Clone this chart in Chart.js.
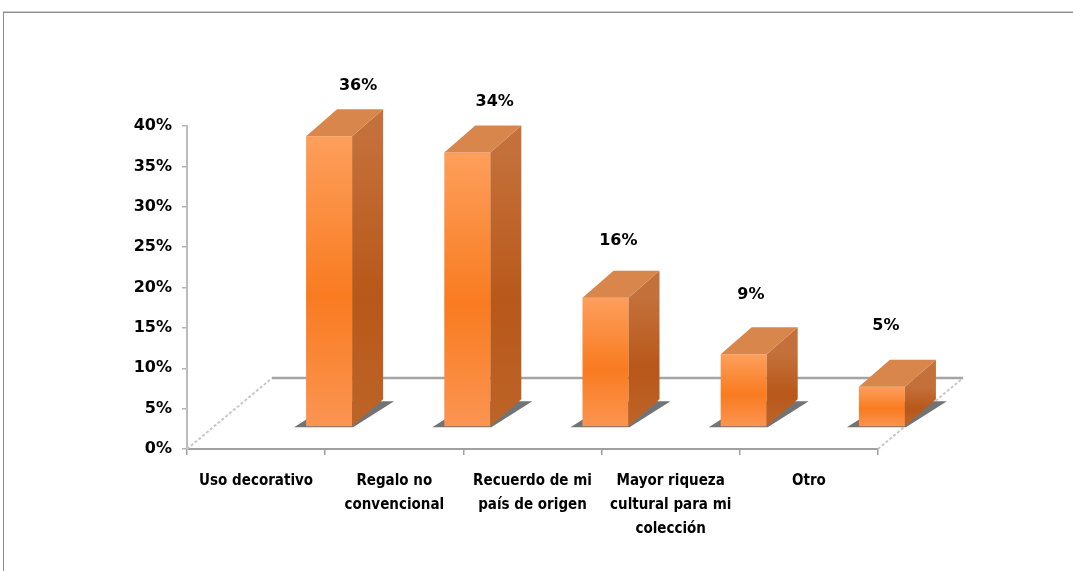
<!DOCTYPE html>
<html lang="es">
<head>
    <meta charset="UTF-8">
    <title>Motivos de compra</title>
    <script src="https://cdn.jsdelivr.net/npm/chart.js"></script>
    <style>
        body { margin: 0; background: #fff; }
        #wrap { position: relative; width: 1073px; height: 571px; overflow: hidden; }
        #frame { position: absolute; left: 3px; top: 12px; width: 1200px; height: 700px;
                 border-top: 1px solid #8c8c8c; border-left: 1px solid #8c8c8c;
                 box-shadow: 0 -1px 0 #cfcfcf; }
        canvas { position: absolute; left: 0; top: 0; }
    </style>
</head>
<body>
<div id="wrap">
    <div id="frame"></div>
    <canvas id="chart" width="1073" height="571"></canvas>
</div>

<script>
    const categories = [
        ['Uso decorativo'],
        ['Regalo no', 'convencional'],
        ['Recuerdo de mi', 'país de origen'],
        ['Mayor riqueza', 'cultural para mi', 'colección'],
        ['Otro']
    ];
    const shares = [0.36, 0.34, 0.16, 0.09, 0.05];
    const shareLabels = ['36%', '34%', '16%', '9%', '5%'];
    const yMax = 0.40;
    const yStep = 0.05;

    // 3D look: bars stand behind the axis plane and get a top and a side face
    const SHIFT_X = 73, SHIFT_Y = -22;
    const DEPTH_X = 31, DEPTH_Y = -27;
    const FLOOR_X = 85, FLOOR_Y = -71;

    function frontGradient(ctx, top, base) {
        const g = ctx.createLinearGradient(0, top, 0, base);
        g.addColorStop(0, '#fd9f5c');
        g.addColorStop(0.55, '#f97b20');
        g.addColorStop(1, '#fb9552');
        return g;
    }

    const bars3d = {
        id: 'bars3d',
        beforeDatasetsDraw(chart) {
            const { ctx, chartArea: a } = chart;
            ctx.save();
            // floor edges
            ctx.strokeStyle = '#c8c8c8';
            ctx.lineWidth = 2;
            ctx.setLineDash([3, 2]);
            ctx.beginPath();
            ctx.moveTo(a.left, a.bottom);
            ctx.lineTo(a.left + FLOOR_X, a.bottom + FLOOR_Y);
            ctx.moveTo(a.right, a.bottom);
            ctx.lineTo(a.right + FLOOR_X, a.bottom + FLOOR_Y);
            ctx.stroke();
            ctx.setLineDash([]);
            ctx.strokeStyle = '#a4a4a4';
            ctx.lineWidth = 2.5;
            ctx.beginPath();
            ctx.moveTo(a.left + FLOOR_X, a.bottom + FLOOR_Y);
            ctx.lineTo(a.right + FLOOR_X, a.bottom + FLOOR_Y);
            ctx.stroke();

            // shadows under the bars
            ctx.fillStyle = '#737373';
            chart.getDatasetMeta(0).data.forEach(bar => {
                const l = bar.x - bar.width / 2 + SHIFT_X;
                const r = bar.x + bar.width / 2 + SHIFT_X;
                const b = bar.base + SHIFT_Y;
                ctx.beginPath();
                ctx.moveTo(l - 12, b + 1);
                ctx.lineTo(r + 1, b + 1);
                ctx.lineTo(r + 42, b - 25);
                ctx.lineTo(l + 29, b - 25);
                ctx.closePath();
                ctx.fill();
            });
            ctx.restore();
        },
        beforeDatasetDraw(chart) {
            chart.ctx.save();
            chart.ctx.translate(SHIFT_X, SHIFT_Y);
        },
        afterDatasetDraw(chart) {
            chart.ctx.restore();
        },
        afterDatasetsDraw(chart) {
            const ctx = chart.ctx;
            ctx.save();
            chart.getDatasetMeta(0).data.forEach((bar, i) => {
                const l = bar.x - bar.width / 2 + SHIFT_X;
                const r = bar.x + bar.width / 2 + SHIFT_X;
                const t = bar.y + SHIFT_Y;
                const b = bar.base + SHIFT_Y;

                // side face
                const sg = ctx.createLinearGradient(0, t, 0, b);
                sg.addColorStop(0, '#c4703a');
                sg.addColorStop(0.55, '#b8581a');
                sg.addColorStop(1, '#bd6428');
                ctx.fillStyle = sg;
                ctx.beginPath();
                ctx.moveTo(r, t);
                ctx.lineTo(r + DEPTH_X, t + DEPTH_Y);
                ctx.lineTo(r + DEPTH_X, b + DEPTH_Y);
                ctx.lineTo(r, b);
                ctx.closePath();
                ctx.fill();

                // top face
                ctx.fillStyle = '#d8864c';
                ctx.beginPath();
                ctx.moveTo(l, t);
                ctx.lineTo(r, t);
                ctx.lineTo(r + DEPTH_X, t + DEPTH_Y);
                ctx.lineTo(l + DEPTH_X, t + DEPTH_Y);
                ctx.closePath();
                ctx.fill();

                // value label, leaning with the perspective
                const h = b - t;
                ctx.fillStyle = '#000';
                ctx.font = 'bold 16px "DejaVu Sans"';
                ctx.textAlign = 'center';
                ctx.textBaseline = 'middle';
                ctx.fillText(shareLabels[i], bar.x + SHIFT_X + h * 0.1, t - 62 + h * 0.04);
            });
            ctx.restore();
        }
    };

    const ctx = document.getElementById('chart').getContext('2d');
    new Chart(ctx, {
        type: 'bar',
        data: {
            labels: categories,
            datasets: [{
                data: shares,
                clip: false,
                backgroundColor: c => {
                    const y = c.chart.scales.y;
                    if (!y || c.raw === undefined) return '#f97b20';
                    const top = y.getPixelForValue(c.raw);
                    const base = y.getPixelForValue(0);
                    if (!isFinite(top) || !isFinite(base)) return '#f97b20';
                    return frontGradient(c.chart.ctx, top, base);
                },
                borderWidth: 0,
                barPercentage: 1,
                categoryPercentage: 0.333
            }]
        },
        options: {
            responsive: false,
            animation: false,
            layout: { padding: { left: 0, right: 195, top: 126, bottom: 0 } },
            plugins: { legend: { display: false }, tooltip: { enabled: false } },
            scales: {
                x: {
                    afterFit: s => { s.height = 122; },
                    grid: { drawOnChartArea: false, drawTicks: true, tickLength: 6, color: '#a0a0a0', lineWidth: 1.5 },
                    border: { color: '#a0a0a0', width: 2 },
                    ticks: {
                        color: '#000',
                        padding: 14,
                        maxRotation: 0,
                        autoSkip: false,
                        font: { family: '"Liberation Sans Narrow", "DejaVu Sans Condensed", sans-serif', weight: 'bold', size: 15, lineHeight: 1.6 }
                    }
                },
                y: {
                    min: 0,
                    max: yMax,
                    afterFit: s => { s.width = 187; },
                    grid: { drawOnChartArea: false, drawTicks: true, tickLength: 5, color: '#b4b4b4', lineWidth: 1.5 },
                    border: { color: '#bcbcbc', width: 2 },
                    ticks: {
                        stepSize: yStep,
                        padding: 10,
                        color: '#000',
                        font: { family: '"DejaVu Sans"', weight: 'bold', size: 16 },
                        callback: v => Math.round(v * 100) + '%'
                    }
                }
            }
        },
        plugins: [bars3d]
    });
</script>
</body>
</html>
